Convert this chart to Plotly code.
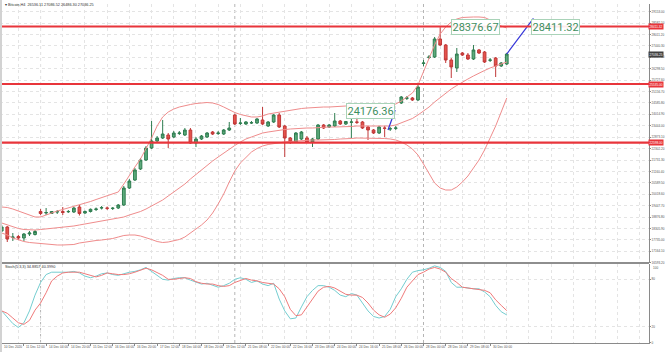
import plotly.graph_objects as go

# ---------------- data ----------------
BARS = list(range(92))

OPEN = [18179, 18380, 17854, 17904, 17829, 18029, 18004, 19155, 19080, 19055,
        19130, 19155, 19140, 19130, 19380, 19080, 19155, 19255, 19330, 19330,
        19305, 19330, 19480, 20331, 20731, 21282, 21732, 22332, 22683, 22833,
        22983, 22883, 23058, 22983, 23233, 22583, 22783, 22883, 23133, 23058,
        23033, 23233, 23984, 23558, 23534, 23584, 23584, 23734, 23434, 23634,
        23984, 23434, 22833, 22633, 22783, 22833, 22633, 22783, 23484, 23384,
        23434, 23684, 23534, 23619, 23634, 23634, 23384, 23233, 23083, 23333,
        23283, 23318, 24584, 24820, 24835, 24735, 26561, 26861, 26886, 27787,
        27487, 26736, 26336, 27086, 26986, 26786, 27237, 27136, 26721, 26836,
        26436, 26536]
HIGH = [18480, 18430, 18079, 17979, 18079, 18179, 18229, 19280, 19330, 19180,
        19230, 19380, 19230, 19380, 19480, 19205, 19305, 19355, 19430, 19405,
        19380, 19530, 20431, 20781, 21332, 21832, 22433, 23684, 22933, 23734,
        23083, 23183, 23183, 23333, 23333, 22883, 22983, 23133, 23183, 23183,
        23283, 23634, 24034, 23834, 23684, 23684, 23834, 24384, 23684, 24034,
        24084, 23484, 22883, 23133, 23183, 22933, 22833, 23534, 23534, 23534,
        24084, 23734, 23684, 23834, 23884, 23684, 23434, 23283, 23434, 23434,
        23384, 23434, 24935, 24935, 24885, 25485, 26736, 26986, 27887, 28376.67,
        27537, 26836, 27337, 27136, 27086, 27487, 27287, 27186, 26836, 26886,
        26636, 27086]
LOW = [18129, 17629, 17679, 17729, 17679, 17929, 17954, 18980, 18980, 19030,
       19030, 18980, 19080, 19080, 18955, 19030, 19105, 19180, 19255, 19230,
       19230, 19280, 19430, 20281, 20681, 21232, 21682, 22282, 22583, 22783,
       22332, 22833, 22983, 22933, 22533, 22383, 22733, 22833, 22983, 22983,
       22983, 23183, 23484, 23484, 23484, 23534, 23534, 23484, 23384, 23584,
       23333, 21882, 22533, 22583, 22733, 22583, 22383, 22733, 23283, 23333,
       23384, 23484, 23484, 22833, 23534, 23283, 22733, 23033, 23033, 22883,
       23183, 23233, 24534, 24735, 24685, 24685, 26436, 26786, 26836, 27437,
       26586, 25835, 26136, 26936, 26736, 26736, 27036, 26586, 26636, 25885,
       26386, 26486]
CLOSE = [18380, 17779, 17879, 17829, 18029, 18079, 18154, 19055, 19105, 19155,
         19145, 19105, 19155, 19330, 19055, 19155, 19265, 19280, 19345, 19315,
         19320, 19480, 20331, 20681, 21232, 21732, 22332, 22683, 22833, 23033,
         22783, 23083, 23083, 23233, 22583, 22783, 22933, 23083, 23033, 23083,
         23233, 23333, 23534, 23584, 23634, 23598, 23784, 23534, 23634, 23984,
         23384, 22833, 22633, 23083, 23133, 22633, 22783, 23484, 23333, 23484,
         23684, 23534, 23659, 23634, 23619, 23333, 23233, 23083, 23384, 23318,
         23298, 23333, 24885, 24835, 24735, 25385, 26586, 26886, 27787, 27487,
         26736, 26386, 27036, 26986, 26786, 27237, 27086, 26636, 26736, 26436,
         26586, 27036.25]

BB_UPPER = [19380, 19355, 19280, 19180, 19080, 18980, 18880, 18880, 18980, 19105,
            19180, 19255, 19330, 19405, 19480, 19580, 19655, 19755, 19855, 19956,
            20056, 20131, 20531, 20981, 21382, 21782, 22282, 22833, 23434, 23884,
            24134, 24284, 24384, 24459, 24509, 24559, 24584, 24609, 24584, 24509,
            24384, 24234, 24109, 24009, 23934, 23884, 23884, 23934, 24034, 24084,
            24134, 24184, 24234, 24284, 24309, 24334, 24359, 24384, 24384, 24384,
            24409, 24409, 24434, 24434, 24434, 24434, 24434, 24409, 24384, 24384,
            24434, 24534, 24685, 24885, 25085, 25485, 26136, 26836, 27487, 28037,
            28387, 28638, 28788, 28863, 28888, 28888, 28888, 28863, 28738, 28588,
            28437, 28337]
BB_MID = [18580, 18480, 18380, 18305, 18254, 18229, 18229, 18254, 18279, 18305,
          18330, 18355, 18380, 18430, 18480, 18530, 18580, 18630, 18655, 18705,
          18755, 18805, 18880, 18980, 19055, 19155, 19280, 19430, 19555, 19730,
          19930, 20131, 20331, 20531, 20781, 21006, 21232, 21482, 21682, 21882,
          22082, 22282, 22458, 22633, 22783, 22883, 22983, 23083, 23133, 23183,
          23233, 23258, 23283, 23308, 23333, 23333, 23333, 23359, 23359, 23384,
          23384, 23384, 23409, 23409, 23434, 23434, 23434, 23434, 23434, 23434,
          23434, 23484, 23584, 23684, 23809, 23984, 24184, 24384, 24634, 24860,
          25085, 25285, 25460, 25635, 25785, 25936, 26086, 26211, 26336, 26436,
          26536, 26636]
BB_LOWER = [18079, 17979, 17829, 17729, 17654, 17604, 17579, 17554, 17504, 17479,
            17479, 17479, 17479, 17504, 17579, 17629, 17679, 17704, 17729, 17754,
            17804, 17879, 17954, 17979, 17979, 17929, 17854, 17754, 17654, 17604,
            17629, 17679, 17754, 17879, 18079, 18279, 18480, 18730, 19080, 19530,
            20031, 20631, 21182, 21582, 21882, 22132, 22307, 22433, 22508, 22558,
            22608, 22633, 22658, 22683, 22683, 22708, 22733, 22733, 22733, 22733,
            22758, 22783, 22783, 22808, 22833, 22833, 22833, 22833, 22833, 22808,
            22783, 22733, 22633, 22483, 22282, 21982, 21532, 21031, 20581, 20331,
            20231, 20231, 20381, 20631, 20931, 21332, 21732, 22232, 22833, 23434,
            24134, 24835]

STOCH_MAIN = [40, 32, 24, 19, 25, 40, 60, 76, 86, 89,
              89, 89, 89, 90, 88, 84, 82, 84, 87, 88,
              86, 85, 87, 89, 90, 92, 95, 90, 85, 80,
              79, 81, 82, 82, 79, 76, 74, 75, 72, 70,
              72, 75, 80, 82, 80, 76, 78, 74, 72, 75,
              55, 40, 30, 31, 45, 58, 66, 72, 72, 70,
              66, 60, 58, 62, 60, 50, 40, 33, 31, 33,
              42, 58, 68, 80, 89, 91, 92, 94, 97, 95,
              90, 76, 70, 70, 69, 68, 68, 64, 58, 47,
              39, 34.8857]
STOCH_SIGNAL = [40, 37, 31, 25, 23, 28, 41, 50, 63, 78,
                84, 88, 89, 89, 89, 87, 85, 83, 85, 88,
                87, 86, 86, 87, 89, 92, 94, 92, 89, 85,
                80, 80, 81, 82, 81, 77, 75, 74, 74, 72,
                71, 72, 76, 79, 81, 79, 78, 76, 75, 74,
                68, 58, 42, 34, 35, 45, 56, 65, 70, 71,
                69, 65, 61, 60, 60, 57, 50, 41, 35, 32,
                36, 44, 56, 70, 78, 86, 89, 93, 95, 93,
                89, 81, 76, 70, 69, 68, 67, 66, 63, 54,
                47, 40.3990]

PRICE_TICKS = [29153.00, 28582.10, 28011.20, 27440.30, 26869.40, 26298.50,
               25727.60, 25156.70, 24585.80, 24014.90, 23444.00, 22873.10,
               22302.20, 21731.30, 21160.40, 20589.50, 20018.60, 19447.70,
               18876.80, 18305.90, 17735.00, 17164.10, 16593.20]
STOCH_TICKS = [0, 20, 80]
STOCH_TOP = 100

TIME_TICK_BARS = list(range(0, 92, 4))
TIME_TICK_LABELS = ["10 Dec 2020", "11 Dec 12:00", "14 Dec 04:00", "14 Dec 20:00",
                    "15 Dec 12:00", "16 Dec 04:00", "16 Dec 20:00", "17 Dec 12:00",
                    "18 Dec 04:00", "18 Dec 20:00", "19 Dec 12:00", "21 Dec 08:00",
                    "22 Dec 00:00", "22 Dec 16:00", "23 Dec 08:00", "24 Dec 00:00",
                    "24 Dec 16:00", "25 Dec 08:00", "26 Dec 00:00", "28 Dec 00:00",
                    "28 Dec 16:00", "29 Dec 08:00", "30 Dec 00:00"]
GRID_BARS = list(range(3, 120, 4))
WEEK_SEPARATOR_BARS = [7, 42, 76]

LEVELS = [28411.32, 25535.00, 22598.00]

# analysis objects: projection lines (bar, price) and their labels
PROJ_A_BARS = [91, 95.8]
PROJ_A_PRICES = [27036.25, 28823]
PROJ_B_BARS = [69.6, 70.9]
PROJ_B_PRICES = [23233, 24234]
TEXT_LABELS = [("28376.67", 85.3, 28376.67), ("28411.32", 99.7, 28411.32),
               ("24176.36", 66.4, 24176.36)]

TITLE = "\u25be Bitcoin,H4  26536.11 27086.52 26486.30 27036.25"
STOCH_TITLE = "Stoch(5,3,3) 34.8857 40.3990"

# ---------------- layout geometry ----------------
W, H = 665, 352
XR = 649 / W
MAIN_DOM = [(H - 263) / H, (H - 4) / H]
OSC_DOM = [(H - 343) / H, (H - 263.5) / H]
TIME_LABEL_Y = (H - 346.5) / H

GRID = "#e4e4e4"
FONT = "Liberation Sans, Arial, sans-serif"
TICK_FONT = dict(family=FONT, size=3.1, color="#555555")

fig = go.Figure()

fig.add_trace(go.Candlestick(
    x=BARS, open=OPEN, high=HIGH, low=LOW, close=CLOSE,
    increasing=dict(line=dict(color="#2f7d50", width=1), fillcolor="#5dab7c"),
    decreasing=dict(line=dict(color="#c03838", width=1), fillcolor="#e5534b"),
    whiskerwidth=0, xaxis="x", yaxis="y", showlegend=False, hoverinfo="skip"))

for band in (BB_UPPER, BB_MID, BB_LOWER):
    fig.add_trace(go.Scatter(x=BARS, y=band, mode="lines", xaxis="x", yaxis="y",
                             line=dict(color="#ef8c8c", width=1), showlegend=False,
                             hoverinfo="skip"))

fig.add_trace(go.Scatter(x=PROJ_A_BARS, y=PROJ_A_PRICES, mode="lines", xaxis="x", yaxis="y",
                         line=dict(color="#3535d8", width=1.2), showlegend=False, hoverinfo="skip"))
fig.add_trace(go.Scatter(x=PROJ_B_BARS, y=PROJ_B_PRICES, mode="lines", xaxis="x", yaxis="y",
                         line=dict(color="#3535d8", width=1.2), showlegend=False, hoverinfo="skip"))

fig.add_trace(go.Scatter(x=BARS, y=STOCH_MAIN, mode="lines", xaxis="x2", yaxis="y2",
                         line=dict(color="#74cdd0", width=1), showlegend=False, hoverinfo="skip"))
fig.add_trace(go.Scatter(x=BARS, y=STOCH_SIGNAL, mode="lines", xaxis="x2", yaxis="y2",
                         line=dict(color="#ef7a7a", width=1), showlegend=False, hoverinfo="skip"))

shapes = []
for b in WEEK_SEPARATOR_BARS:
    shapes.append(dict(type="line", xref="x", yref="paper", x0=b, x1=b,
                       y0=OSC_DOM[0], y1=MAIN_DOM[1],
                       line=dict(color="#b5b5b5", width=1, dash="dot"), layer="below"))
for lv in LEVELS:
    shapes.append(dict(type="line", xref="x domain", yref="y", x0=0, x1=1, y0=lv, y1=lv,
                       line=dict(color="#e8353b", width=2.2)))
# pane separator and left border
shapes.append(dict(type="line", xref="paper", yref="paper", x0=0, x1=XR,
                   y0=MAIN_DOM[0], y1=MAIN_DOM[0], line=dict(color="#8e8e8e", width=2)))
shapes.append(dict(type="line", xref="paper", yref="paper", x0=0.0015, x1=0.0015,
                   y0=0, y1=1, line=dict(color="#d2d2d2", width=2)))

ann = []
for txt, bx, py in TEXT_LABELS:
    ann.append(dict(x=bx, y=py, xref="x", yref="y", text=txt, showarrow=False,
                    font=dict(family="Roboto, Arial", size=11, color="#3f8f60"),
                    bgcolor="rgba(255,255,255,0.9)", bordercolor="#a9d3b8",
                    borderwidth=1, borderpad=0.5))
for lv in LEVELS:
    ann.append(dict(x=XR - 0.002, y=lv, xref="paper", yref="y", xanchor="left",
                    text=f"{lv:.2f}", showarrow=False,
                    font=dict(family=FONT, size=3.1, color="white"),
                    bgcolor="#e8353b", borderpad=0.6))
ann.append(dict(x=XR - 0.002, y=CLOSE[-1], xref="paper", yref="y", xanchor="left",
                text=f"{CLOSE[-1]:.2f}", showarrow=False,
                font=dict(family=FONT, size=3.1, color="white"),
                bgcolor="#404040", borderpad=0.6))
ann.append(dict(x=XR + 0.003, y=STOCH_TOP, xref="paper", yref="y2", xanchor="left",
                yanchor="top", text=str(STOCH_TOP), showarrow=False, font=TICK_FONT))
for b, lab in zip(TIME_TICK_BARS, TIME_TICK_LABELS):
    ann.append(dict(x=b, y=TIME_LABEL_Y, xref="x2", yref="paper", xanchor="left",
                    yanchor="middle", text=lab, showarrow=False, xshift=0.5,
                    font=dict(family=FONT, size=3.2, color="#555555")))
ann.append(dict(x=0.004, y=(H - 5) / H, xref="paper", yref="paper", xanchor="left",
                yanchor="middle", text=TITLE, showarrow=False,
                font=dict(family=FONT, size=3.8, color="#333333")))
ann.append(dict(x=0.004, y=(H - 266.5) / H, xref="paper", yref="paper", xanchor="left",
                yanchor="middle", text=STOCH_TITLE, showarrow=False,
                font=dict(family=FONT, size=3.8, color="#333333")))

x_range = [-0.31, 116.63]

fig.update_layout(
    width=W, height=H, margin=dict(l=0, r=0, t=0, b=0),
    paper_bgcolor="white", plot_bgcolor="white", showlegend=False,
    font=dict(family=FONT, color="#555555"),
    shapes=shapes, annotations=ann,
    xaxis=dict(domain=[0, XR], range=x_range, anchor="y", showticklabels=False,
               tickvals=GRID_BARS, ticks="", showgrid=True, gridcolor=GRID, griddash="dot",
               gridwidth=1, zeroline=False, rangeslider=dict(visible=False),
               showline=False, fixedrange=True),
    yaxis=dict(domain=MAIN_DOM, range=[16578, 29538], anchor="x", side="right",
               tickvals=PRICE_TICKS, ticktext=[f"{v:.2f}" for v in PRICE_TICKS],
               tickfont=TICK_FONT, ticks="outside", ticklen=1, ticklabelstandoff=0,
               tickcolor="#888888", showgrid=True, gridcolor=GRID, griddash="dot",
               zeroline=False, showline=True, linecolor="#8a8a8a", linewidth=1,
               automargin=False),
    xaxis2=dict(domain=[0, XR], range=x_range, anchor="y2", matches="x",
                tickvals=TIME_TICK_BARS, showticklabels=False,
                ticks="outside", ticklen=2, tickcolor="#888888", showgrid=False,
                minor=dict(tickvals=GRID_BARS, showgrid=True, gridcolor=GRID,
                           griddash="dot", ticks=""),
                zeroline=False, showline=True, linecolor="#8a8a8a", linewidth=1,
                automargin=False, rangeslider=dict(visible=False)),
    yaxis2=dict(domain=OSC_DOM, range=[-0.6, 100], anchor="x2", side="right",
                tickvals=STOCH_TICKS, ticktext=[str(v) for v in STOCH_TICKS],
                tickfont=TICK_FONT, ticks="outside", ticklen=1, ticklabelstandoff=0,
                tickcolor="#888888", showgrid=True, gridcolor=GRID, griddash="dot",
                zeroline=False, showline=True, linecolor="#8a8a8a", linewidth=1,
                automargin=False),
)

fig.write_html("out.html")
